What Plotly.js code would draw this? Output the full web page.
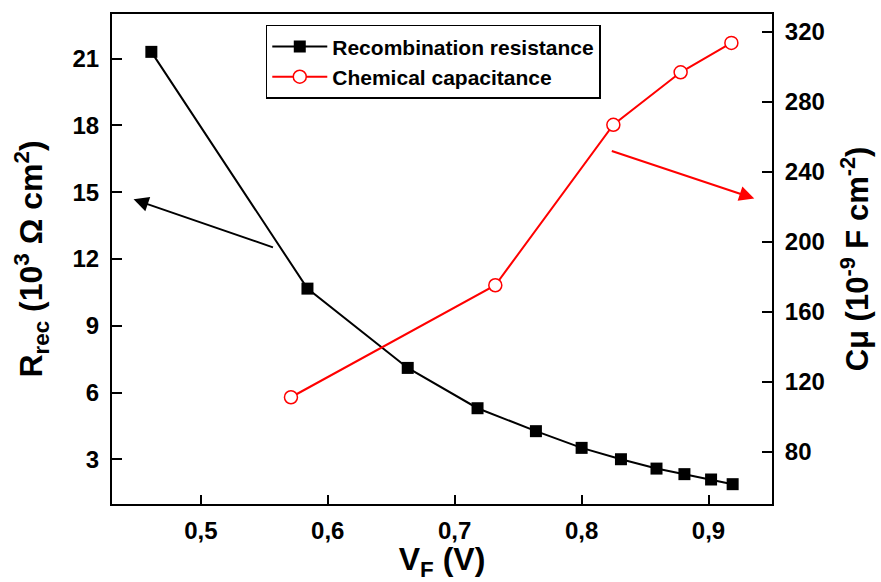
<!DOCTYPE html>
<html>
<head>
<meta charset="utf-8">
<script src="https://cdn.plot.ly/plotly-3.0.1.min.js"></script>
<style>html,body{margin:0;padding:0;background:#fff;}#chart{width:881px;height:582px;}</style>
</head>
<body>
<div id="chart"></div>
<script>
// Recombination resistance (10^3 Ohm cm^2) vs V_F (V)
const vfRec = [0.461, 0.584, 0.663, 0.718, 0.764, 0.800, 0.831, 0.859, 0.881, 0.902, 0.919];
const rRec  = [21.3, 10.67, 7.11, 5.30, 4.27, 3.52, 3.01, 2.59, 2.34, 2.10, 1.89];
// Chemical capacitance (10^-9 F cm^-2) vs V_F (V)
const vfCap = [0.571, 0.732, 0.825, 0.878, 0.918];
const cMu   = [111, 175, 266.7, 296.7, 313.5];

const xTicks = [0.5, 0.6, 0.7, 0.8, 0.9];
const xTickText = ["0,5", "0,6", "0,7", "0,8", "0,9"];
const yTicks = [3, 6, 9, 12, 15, 18, 21];
const y2Ticks = [80, 120, 160, 200, 240, 280, 320];

const fam = '"Liberation Sans", Arial, sans-serif';

const traces = [
  {
    x: vfRec, y: rRec, name: 'Recombination resistance', type: 'scatter', mode: 'lines+markers',
    line: {color: '#000', width: 2},
    marker: {symbol: 'square', size: 12, color: '#000'},
    yaxis: 'y'
  },
  {
    x: vfCap, y: cMu, name: 'Chemical capacitance', type: 'scatter', mode: 'lines+markers',
    line: {color: '#ff0000', width: 2},
    marker: {symbol: 'circle', size: 13, color: '#fff', line: {color: '#ff0000', width: 1.5}},
    yaxis: 'y2'
  }
];

const layout = {
  width: 881, height: 582,
  margin: {l: 112, r: 109, t: 14, b: 78},
  paper_bgcolor: '#fff', plot_bgcolor: '#fff',
  font: {family: fam, color: '#000'},
  showlegend: true,
  legend: {
    x: 0.233, y: 0.978, xanchor: 'left', yanchor: 'top',
    bgcolor: '#fff', bordercolor: '#000', borderwidth: 1.5,
    font: {family: fam, size: 21, weight: 'bold', color: '#000'},
    tracegroupgap: 0, itemwidth: 55
  },
  xaxis: {
    range: [0.43, 0.95],
    tickvals: xTicks, ticktext: xTickText,
    ticks: 'inside', ticklen: 9, tickwidth: 2, tickcolor: '#000',
    showline: true, linewidth: 2, linecolor: '#000', mirror: true,
    showgrid: false, zeroline: false,
    tickfont: {family: fam, size: 24, weight: 'bold'},
    ticklabelstandoff: 4,
    title: {text: 'V<sub>F</sub> (V)', font: {family: fam, size: 32, weight: 'bold'}, standoff: 0}
  },
  yaxis: {
    range: [1, 23],
    tickvals: yTicks,
    ticks: 'inside', ticklen: 10, tickwidth: 2, tickcolor: '#000',
    showline: true, linewidth: 2, linecolor: '#000', mirror: true,
    showgrid: false, zeroline: false,
    tickfont: {family: fam, size: 24, weight: 'bold'},
    ticklabelstandoff: 6,
    title: {text: 'R<sub>rec</sub> (10<sup>3</sup> Ω cm<sup>2</sup>)', font: {family: fam, size: 32, weight: 'bold'}, standoff: 20}
  },
  yaxis2: {
    overlaying: 'y', side: 'right',
    range: [50, 330],
    tickvals: y2Ticks,
    ticks: 'inside', ticklen: 10, tickwidth: 2, tickcolor: '#000',
    showline: true, linewidth: 2, linecolor: '#000',
    showgrid: false, zeroline: false,
    tickfont: {family: fam, size: 24, weight: 'bold'},
    ticklabelstandoff: 6,
    title: {text: 'Cμ (10<sup>-9</sup> F cm<sup>-2</sup>)', font: {family: fam, size: 31, weight: 'bold'}, standoff: 22}
  },
  annotations: [
    {
      xref: 'x', yref: 'y', axref: 'x', ayref: 'y',
      x: 0.447, y: 14.68, ax: 0.558, ay: 12.5,
      showarrow: true, arrowhead: 2, arrowsize: 1.5, arrowwidth: 2, arrowcolor: '#000', text: ''
    },
    {
      xref: 'x', yref: 'y2', axref: 'x', ayref: 'y2',
      x: 0.936, y: 224.6, ax: 0.8226, ay: 252,
      showarrow: true, arrowhead: 2, arrowsize: 1.5, arrowwidth: 2, arrowcolor: '#ff0000', text: ''
    }
  ]
};

Plotly.newPlot('chart', traces, layout, {displayModeBar: false, staticPlot: true});
</script>
</body>
</html>
